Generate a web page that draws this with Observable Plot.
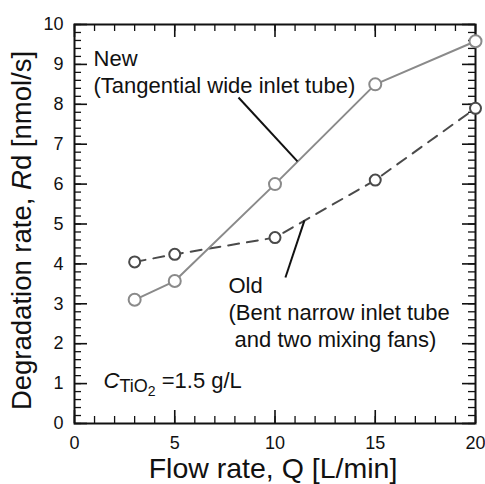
<!DOCTYPE html>
<html><head><meta charset="utf-8">
<script src="https://cdn.jsdelivr.net/npm/d3@7"></script>
<script src="https://cdn.jsdelivr.net/npm/@observablehq/plot@0.6"></script>
<style>body{margin:0;background:#fff} svg{display:block}</style>
</head><body><div id="chart"></div>
<script>
// ---- data ----
const flowRate = [3, 5, 10, 15, 20];            // Q [L/min]
const newRate  = [3.1, 3.57, 6.0, 8.5, 9.58];   // New (Tangential wide inlet tube)
const oldRate  = [4.05, 4.24, 4.66, 6.1, 7.9];  // Old (Bent narrow inlet tube and two mixing fans)
const xMajorTicks = [0, 5, 10, 15, 20];
const yMajorTicks = [0, 1, 2, 3, 4, 5, 6, 7, 8, 9, 10];
const xMinorTicks = d3.range(0, 20.001, 1);
const yMinorTicks = d3.range(0, 10.001, 0.2);
const annotations = [
  {x: 0.95, y: 9.44, text: "New\n(Tangential wide inlet tube)"},
  {x: 7.68, y: 3.75, text: "Old\n(Bent narrow inlet tube\n\u00a0and two mixing fans)"}
];
const leaders = [
  {x1: 8.18, y1: 8.17, x2: 11.12, y2: 6.57},
  {x1: 11.47, y1: 5.09, x2: 10.52, y2: 3.66}
];
const concLabel = {x: 1.45, y: 0.9, text: "CTiO2 =1.5 g/L"};
const concParts = [["C", "italic", 22, 0], ["TiO", "normal", 18, 4], ["2", "normal", 14, 4], [" =1.5 g/L", "normal", 22, -8]];
const xTitle = "Flow rate, Q [L/min]";
const yTitle = "Degradation rate, Rd [nmol/s]";
const yTitleParts = [["Degradation rate, ", "normal"], ["R", "italic"], ["d [nmol/s]", "normal"]];

const table = flowRate.map((q, i) => ({q, newR: newRate[i], oldR: oldRate[i]}));

const W = 485, H = 484, mL = 74, mR = 10, mT = 24, mB = 61;
const pW = W - mL - mR, pH = H - mT - mB;
const major = 13, minor = 7;
const ink = "#111";
const newColor = "#8a8a8a", oldColor = "#4a4a4a";

const svg = Plot.plot({
  width: W, height: H,
  marginLeft: mL, marginRight: mR, marginTop: mT, marginBottom: mB,
  style: {fontFamily: "'Liberation Sans', Arial, sans-serif", background: "#fff", color: ink},
  x: {domain: [0, 20]},
  y: {domain: [0, 10]},
  marks: [
    // minor ticks (inward, all four sides)
    Plot.tickX(xMinorTicks, {x: d => d, insetTop: pH - minor, stroke: ink, strokeWidth: 1.3}),
    Plot.tickX(xMinorTicks, {x: d => d, insetBottom: pH - minor, stroke: ink, strokeWidth: 1.3}),
    Plot.tickY(yMinorTicks, {y: d => d, insetRight: pW - minor, stroke: ink, strokeWidth: 1.3}),
    Plot.tickY(yMinorTicks, {y: d => d, insetLeft: pW - minor, stroke: ink, strokeWidth: 1.3}),
    // major ticks
    Plot.tickX(xMajorTicks, {x: d => d, insetTop: pH - major, stroke: ink, strokeWidth: 1.6}),
    Plot.tickX(xMajorTicks, {x: d => d, insetBottom: pH - major, stroke: ink, strokeWidth: 1.6}),
    Plot.tickY(yMajorTicks, {y: d => d, insetRight: pW - major, stroke: ink, strokeWidth: 1.6}),
    Plot.tickY(yMajorTicks, {y: d => d, insetLeft: pW - major, stroke: ink, strokeWidth: 1.6}),
    // tick labels
    Plot.axisX({ticks: xMajorTicks, tickSize: 0, tickPadding: 13, fontSize: 18, label: null, tickFormat: d => String(d)}),
    Plot.axisY({ticks: yMajorTicks, tickSize: 0, tickPadding: 11, fontSize: 18, label: null, tickFormat: d => String(d)}),
    Plot.frame({stroke: ink, strokeWidth: 2}),
    // series
    Plot.line(table, {x: "q", y: "oldR", stroke: oldColor, strokeWidth: 2, strokeDasharray: "11,8"}),
    Plot.line(table, {x: "q", y: "newR", stroke: newColor, strokeWidth: 2}),
    Plot.dot(table, {x: "q", y: "oldR", r: 5.5, stroke: oldColor, fill: "white", strokeWidth: 2}),
    Plot.dot(table, {x: "q", y: "newR", r: 6, stroke: newColor, fill: "white", strokeWidth: 2}),
    // annotations
    Plot.link(leaders, {x1: "x1", y1: "y1", x2: "x2", y2: "y2", stroke: ink, strokeWidth: 2}),
    Plot.text(annotations, {x: "x", y: "y", text: "text", textAnchor: "start", lineAnchor: "top", fontSize: 22, lineHeight: 1.23, fill: ink}),
    Plot.text([concLabel], {x: "x", y: "y", text: "text", textAnchor: "start", lineAnchor: "bottom", fontSize: 22, fill: ink, ariaDescription: "conc"}),
    // axis titles
    Plot.text([xTitle], {text: d => d, frameAnchor: "bottom", textAnchor: "middle", lineAnchor: "bottom", dy: 54, dx: -2, fontSize: 28.5, fill: ink}),
    Plot.text([yTitle], {text: d => d, frameAnchor: "left", textAnchor: "middle", lineAnchor: "middle", rotate: -90, dx: -52, dy: 6.5, fontSize: 27.5, fill: ink, ariaDescription: "ytitle"})
  ]
});

// rich text (italics / subscripts)
d3.select(svg).selectAll('g[aria-description="ytitle"] text').each(function() {
  const t = d3.select(this).text(null);
  yTitleParts.forEach(([s, st]) => t.append("tspan").attr("font-style", st).text(s));
});
d3.select(svg).selectAll('g[aria-description="conc"] text').each(function() {
  const t = d3.select(this).text(null);
  concParts.forEach(([s, st, fs, dy]) => t.append("tspan").attr("font-style", st).attr("font-size", fs).attr("dy", dy).text(s));
});

document.getElementById("chart").appendChild(svg);
</script>
</body></html>
